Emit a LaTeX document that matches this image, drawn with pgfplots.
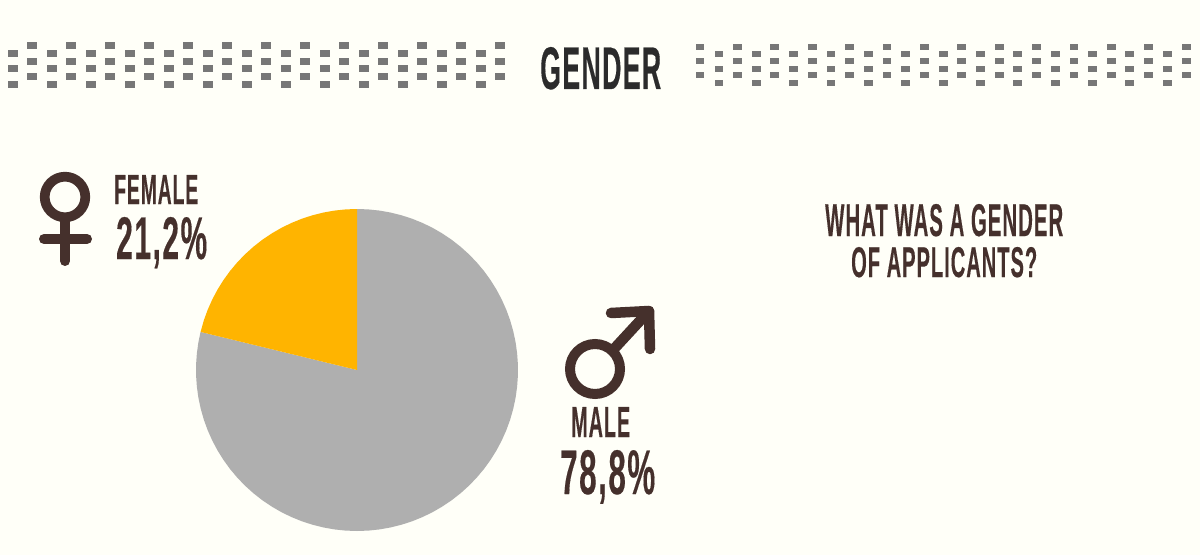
\documentclass[border=0pt]{standalone}
\usepackage{fontspec}
\usepackage{graphicx}
\usepackage{pgfplots}
\pgfplotsset{compat=1.18}
\setmainfont{Liberation Sans}[BoldFeatures={FakeBold=0.4,LetterSpace=5}]
\definecolor{paper}{HTML}{FFFFF8}
\definecolor{brick}{HTML}{777777}
\definecolor{ink}{HTML}{45302C}
\definecolor{head}{HTML}{2B2B2B}
\definecolor{male}{HTML}{AFAFAF}
\definecolor{female}{HTML}{FFB400}

% x, baseline, width, cap height, colour, text
\newcommand\lab[6]{\node[anchor=base west,inner sep=0pt,text=#5] at (#1,#2)
  {\resizebox{#3pt}{#4pt}{\bfseries #6}};}

\begin{document}
\begin{tikzpicture}
\useasboundingbox (0,0) rectangle (1200pt,555pt);
\fill[paper] (0,0) rectangle (1200pt,555pt);

\begin{axis}[
    at={(196pt,24pt)}, anchor=south west,
    width=322pt, height=322pt, scale only axis,
    hide axis,
    xmin=-1, xmax=1, ymin=-1, ymax=1,
]
% shares 21.2 / 78.8 as angle, radius
\addplot[fill=male, draw=none, data cs=polar] coordinates {
    (166.32,1)(170,1)(174,1)(178,1)(182,1)(186,1)(190,1)(194,1)(198,1)(202,1)
    (206,1)(210,1)(214,1)(218,1)(222,1)(226,1)(230,1)(234,1)(238,1)(242,1)
    (246,1)(250,1)(254,1)(258,1)(262,1)(266,1)(270,1)(274,1)(278,1)(282,1)
    (286,1)(290,1)(294,1)(298,1)(302,1)(306,1)(310,1)(314,1)(318,1)(322,1)
    (326,1)(330,1)(334,1)(338,1)(342,1)(346,1)(350,1)(354,1)(358,1)(362,1)
    (366,1)(370,1)(374,1)(378,1)(382,1)(386,1)(390,1)(394,1)(398,1)(402,1)
    (406,1)(410,1)(414,1)(418,1)(422,1)(426,1)(430,1)(434,1)(438,1)(442,1)
    (446,1)(450,1)(0,0)
};
\addplot[fill=female, draw=none, data cs=polar] coordinates {
    (90,1)(94,1)(98,1)(102,1)(106,1)(110,1)(114,1)(118,1)(122,1)(126,1)
    (130,1)(134,1)(138,1)(142,1)(146,1)(150,1)(154,1)(158,1)(162,1)(166.32,1)(0,0)
};
\end{axis}

% everything below in reference pixels, y going down
\begin{scope}[x=1pt, y=-1pt, shift={(0pt,555pt)}]
  % dotted strips
  \foreach \k in {0,...,12} {
    \foreach \y in {53.3,69,84.7} \fill[brick] (13+39*\k-4.8,\y-3.5) rectangle ++(9.6,7);
    \foreach \y in {45.3,61.2,77} \fill[brick] (32+39*\k-4.8,\y-3.5) rectangle ++(9.6,7);
  }
  \foreach \k in {0,...,13}
    \foreach \y in {47.3,61.3,75.3} \fill[brick] (700+37.4*\k-4.4,\y-3) rectangle ++(8.8,6);
  \foreach \k in {0,...,12}
    \foreach \y in {54.3,68.7,82.7} \fill[brick] (719+37.35*\k-4.4,\y-3) rectangle ++(8.8,6);

  \lab{540}{89}{121}{42}{head}{GENDER}
  \lab{114}{204}{84}{29}{ink}{FEMALE}
  \lab{116}{259}{91}{42}{ink}{21,2\%}
  \lab{571}{437}{59}{30}{ink}{MALE}
  \lab{560}{494}{95}{44}{ink}{78,8\%}
  \lab{825}{236}{238}{32}{ink}{WHAT WAS A GENDER}
  \lab{851}{277}{186}{30}{ink}{OF APPLICANTS?}

  % female sign
  \draw[ink, line width=9.7pt] (65,197) circle (20.3pt);
  \draw[ink, line width=10pt, line cap=round] (65,220) -- (65,261);
  \draw[ink, line width=10pt, line cap=round] (44,239) -- (87,239);
  % male sign
  \draw[ink, line width=10pt] (595,369) circle (25pt);
  \draw[ink, line width=10.5pt, line cap=round] (613,350) -- (649,311);
  \draw[ink, line width=10.5pt, line cap=round, line join=round] (611,313) -- (649,311) -- (650,349);
\end{scope}
\end{tikzpicture}
\end{document}
